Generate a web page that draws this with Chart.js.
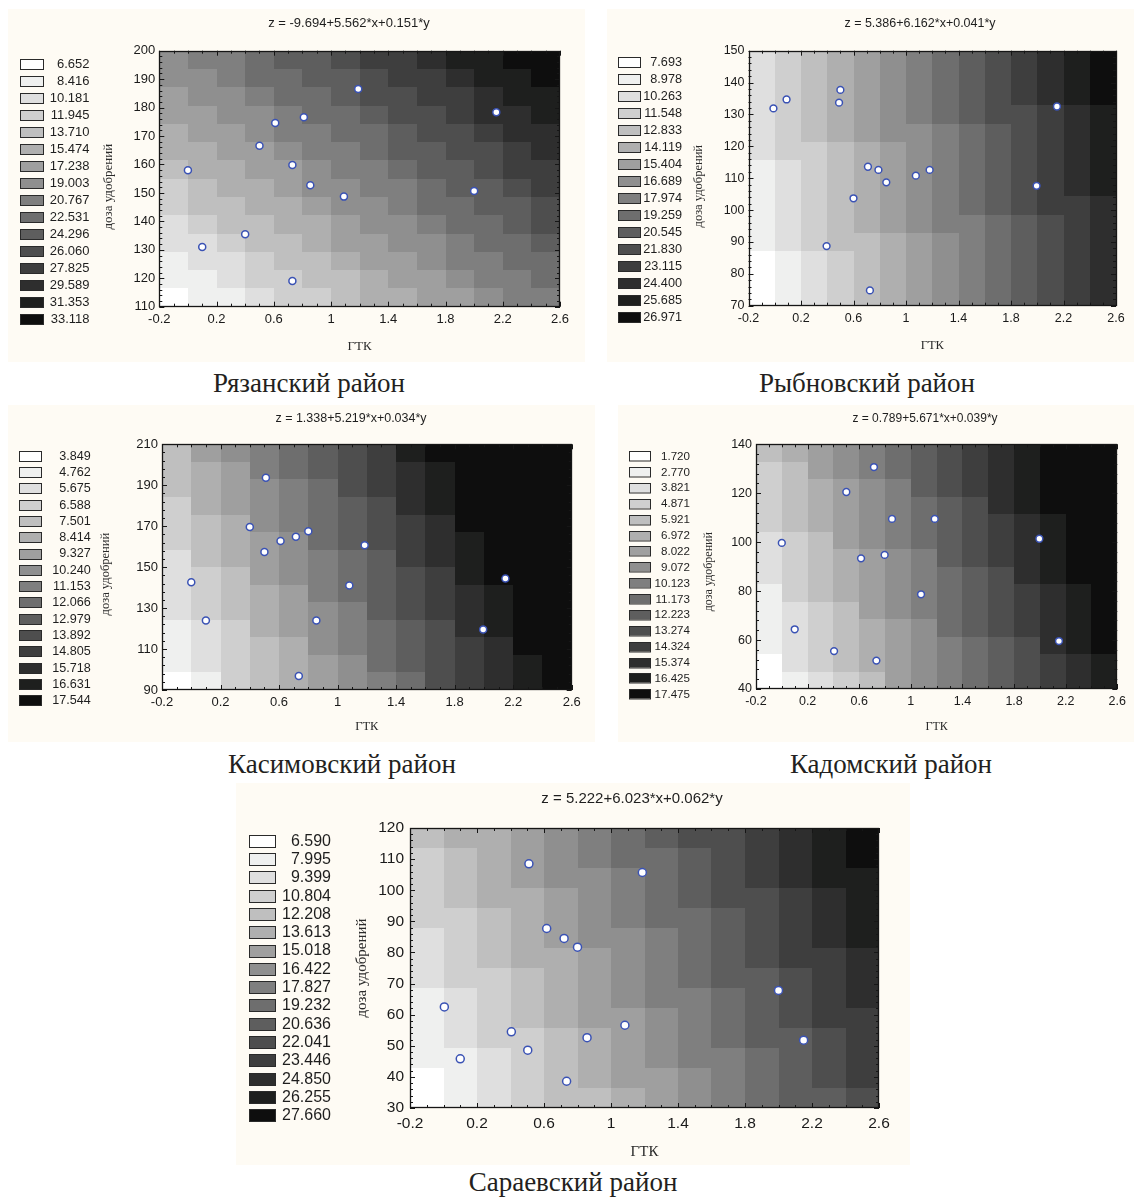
<!DOCTYPE html>
<html>
<head>
<meta charset="utf-8">
<script src="https://cdn.jsdelivr.net/npm/chart.js@4.4.0/dist/chart.umd.min.js"></script>
<style>
  body { margin: 0; background: #fff; width: 1134px; height: 1198px; position: relative; overflow: hidden; }
  .panel { position: absolute; background: #fefbf4; }
  .cap { position: absolute; width: 400px; text-align: center; white-space: nowrap;
         font-family: "Liberation Serif", serif; font-size: 27px; line-height: 27px; color: #231f20; }
</style>
</head>
<body>
<script>
// shared axis ticks
var xTickVals = [-0.2, 0.2, 0.6, 1.0, 1.4, 1.8, 2.2, 2.6];
var xTickLabels = ['-0.2', '0.2', '0.6', '1', '1.4', '1.8', '2.2', '2.6'];
var grays = ['#ffffff', '#eff0ef', '#dfdfdf', '#cfcfcf', '#bfbfbf', '#afafaf', '#9f9f9f', '#8f8f8f',
             '#7f7f7f', '#6e6e6e', '#5e5e5e', '#4e4e4e', '#3e3e3e', '#2e2e2e', '#1e1f1e', '#0e0e0e'];

// Рязанский район
var ryazanGtk  = [0.0, 0.1, 0.4, 0.5, 0.61, 0.73, 0.81, 0.73, 0.855, 1.09, 1.19, 2.0, 2.155];
var ryazanDose = [158, 131, 135.5, 166.6, 174.6, 159.8, 176.6, 119, 152.7, 148.7, 186.5, 150.7, 178.4];
var ryazanYTicks = [110, 120, 130, 140, 150, 160, 170, 180, 190, 200];
var ryazanLevels = ['6.652', '8.416', '10.181', '11.945', '13.710', '15.474', '17.238', '19.003',
                    '20.767', '22.531', '24.296', '26.060', '27.825', '29.589', '31.353', '33.118'];
// level index of every cell, top row first (hex digit = legend entry)
var ryazanCells = ['7889aabccdeeff', '77899aabccdeef', '677899abbccdee', '6677899abbcdde',
                   '56678899abbcdd', '55667889aabbcd', '455667889aabcc', '3455677889aabc',
                   '34455677899aab', '234455677899ab', '2234456677899a', '12234456678899',
                   '11233445667889', '01123345566788'];

// Рыбновский район
var rybnoeGtk  = [-0.01, 0.09, 0.5, 0.49, 0.71, 0.79, 0.85, 0.6, 1.075, 1.18, 0.395, 0.725, 1.995, 2.15];
var rybnoeDose = [131.9, 134.7, 137.7, 133.7, 113.6, 112.6, 108.7, 103.7, 110.8, 112.6, 88.7, 74.8, 107.6, 132.5];
var rybnoeYTicks = [70, 80, 90, 100, 110, 120, 130, 140, 150];
var rybnoeLevels = ['7.693', '8.978', '10.263', '11.548', '12.833', '14.119', '15.404', '16.689',
                    '17.974', '19.259', '20.545', '21.830', '23.115', '24.400', '25.685', '26.971'];
var rybnoeCells = ['23456789abcdef', '23456789abcdef', '23456789abcdef', '23456789abbcde',
                   '234567789abcde', '233456789abcde', '123456789abcde', '123456789abcde',
                   '123456789abccd', '1234567889abcd', '1234456789abcd', '0123456789abcd',
                   '0123456789abcd', '0123456789abcd'];

// Касимовский район
var kasimovGtk  = [0.0, 0.1, 0.51, 0.4, 0.5, 0.61, 0.715, 0.8, 0.855, 0.735, 1.08, 1.185, 2.147, 1.995];
var kasimovDose = [142.6, 123.9, 193.7, 169.6, 157.4, 162.8, 164.9, 167.5, 123.9, 96.8, 141.0, 160.7, 144.5, 119.6];
var kasimovYTicks = [90, 110, 130, 150, 170, 190, 210];
var kasimovLevels = ['3.849', '4.762', '5.675', '6.588', '7.501', '8.414', '9.327', '10.240',
                     '11.153', '12.066', '12.979', '13.892', '14.805', '15.718', '16.631', '17.544'];
var kasimovCells = ['46789abcefffff', '45689abcdeffff', '456789bcdeffff', '356789abdeffff',
                    '345789abcdffff', '345679abcdefff', '2456789acdefff', '2346789abcefff',
                    '2345689abcdeff', '2345678abcdeff', '12356789abdeff', '12345789abcdff',
                    '12345679abcdef', '013456789bcdef'];

// Кадомский район
var kadomGtk  = [0.0, 0.1, 0.405, 0.5, 0.714, 0.614, 0.797, 0.854, 0.733, 1.079, 1.185, 1.996, 2.148];
var kadomDose = [99.7, 64.4, 55.5, 120.5, 130.7, 93.4, 94.8, 109.5, 51.6, 78.7, 109.5, 101.4, 59.6];
var kadomYTicks = [40, 60, 80, 100, 120, 140];
var kadomLevels = ['1.720', '2.770', '3.821', '4.871', '5.921', '6.972', '8.022', '9.072',
                   '10.123', '11.173', '12.223', '13.274', '14.324', '15.374', '16.425', '17.475'];
var kadomCells = ['456789abcdefff', '346789abcdefff', '345678abcdefff', '3456789abdefff',
                  '3456789abcdeff', '2346789abcdeff', '2345678abcdeff', '23456789abdeff',
                  '13456789abcdef', '12346789abcdef', '12345679abcdef', '123456789abdef',
                  '023456789abcde', '012346789abcde'];

// Сараевский район
var saraiGtk  = [0.005, 0.1, 0.51, 0.405, 0.503, 0.616, 0.72, 0.8, 0.857, 0.735, 1.083, 1.187, 2.0, 2.15];
var saraiDose = [62.5, 45.8, 108.5, 54.5, 48.6, 87.7, 84.5, 81.7, 52.6, 38.6, 56.6, 105.7, 67.8, 51.8];
var saraiYTicks = [30, 40, 50, 60, 70, 80, 90, 100, 110, 120];
var saraiLevels = ['6.590', '7.995', '9.399', '10.804', '12.208', '13.613', '15.018', '16.422',
                   '17.827', '19.232', '20.636', '22.041', '23.446', '24.850', '26.255', '27.660'];
var saraiCells = ['4556789abbcdef', '34567899abcdef', '34567789abcdee', '34556789abbcde',
                  '334567899abcde', '234567789abcde', '234556789abccd', '233456789aabcd',
                  '1234567889abcd', '1234566789abcc', '1233456789aabc', '11234567889abc',
                  '01234566789abc', '01234456789aab'];

Chart.defaults.font.family = '"Liberation Sans", Arial, sans-serif';
Chart.defaults.color = '#1a1a1a';

// cells, inner ticks and frame
var heatPlugin = {
  id: 'heat',
  beforeDatasetsDraw: function(chart, args, o) {
    var ctx = chart.ctx, a = chart.chartArea, x = chart.scales.x, y = chart.scales.y;
    var nr = o.cells.length, nc = o.cells[0].length;
    var dx = (x.max - x.min) / nc, dy = (y.max - y.min) / nr;
    ctx.save();
    for (var i = 0; i < nr; i++) {
      for (var j = 0; j < nc; j++) {
        var px0 = Math.round(x.getPixelForValue(x.min + j * dx));
        var px1 = Math.round(x.getPixelForValue(x.min + (j + 1) * dx));
        var py0 = Math.round(y.getPixelForValue(y.max - i * dy));
        var py1 = Math.round(y.getPixelForValue(y.max - (i + 1) * dy));
        ctx.fillStyle = grays[parseInt(o.cells[i][j], 16)];
        ctx.fillRect(px0, py0, px1 - px0, py1 - py0);
      }
    }
    ctx.strokeStyle = '#161616';
    ctx.lineWidth = 1;
    ctx.beginPath();
    var v, p, len, k;
    for (k = 0; k <= 28; k++) {
      v = x.min + k * 0.1;
      p = Math.round(x.getPixelForValue(v)) + 0.5;
      len = (k % 4 === 0) ? 5 : 3;
      ctx.moveTo(p, a.bottom); ctx.lineTo(p, a.bottom - len);
      ctx.moveTo(p, a.top); ctx.lineTo(p, a.top + len);
    }
    var ystep = o.yStep / 5, ny = Math.round((y.max - y.min) / ystep);
    for (k = 0; k <= ny; k++) {
      v = y.min + k * ystep;
      p = Math.round(y.getPixelForValue(v)) + 0.5;
      len = (k % 5 === 0) ? 5 : 3;
      ctx.moveTo(a.left, p); ctx.lineTo(a.left + len, p);
      ctx.moveTo(a.right, p); ctx.lineTo(a.right - len, p);
    }
    ctx.stroke();
    ctx.lineWidth = 1.3;
    ctx.strokeRect(Math.round(a.left) + 0.5, Math.round(a.top) + 0.5,
                   Math.round(a.right - a.left) - 1, Math.round(a.bottom - a.top) - 1);
    ctx.restore();
  }
};

// equation title, y-axis title and level legend
var decorPlugin = {
  id: 'decor',
  afterDraw: function(chart, args, o) {
    var ctx = chart.ctx;
    ctx.save();
    ctx.fillStyle = '#1e1e1e';
    ctx.textAlign = 'center';
    ctx.textBaseline = 'middle';
    ctx.font = o.titleSize + 'px "Liberation Sans"';
    ctx.fillText(o.title, o.titleX, o.titleY);

    ctx.save();
    ctx.translate(o.yTitleX, o.yTitleY);
    ctx.rotate(-Math.PI / 2);
    ctx.fillStyle = '#2a2a2a';
    ctx.font = o.axisSize + 'px "Liberation Serif"';
    ctx.fillText('доза удобрений', 0, 0);
    ctx.restore();

    ctx.font = o.legSize + 'px "Liberation Sans"';
    ctx.textAlign = 'right';
    for (var k = 0; k < o.levels.length; k++) {
      var yc = o.legY0 + k * o.legDy;
      var sx = Math.round(o.legX), sy = Math.round(yc - o.swH / 2);
      ctx.fillStyle = grays[k];
      ctx.fillRect(sx, sy, o.swW, o.swH);
      ctx.strokeStyle = '#2a2a2a';
      ctx.lineWidth = 1;
      ctx.strokeRect(sx + 0.5, sy + 0.5, o.swW, o.swH);
      ctx.fillStyle = '#1e1e1e';
      ctx.fillText(o.levels[k], o.legRight, yc + 0.5);
    }
    ctx.restore();
  }
};

function panel(p) {
  var bx = p.box[0], by = p.box[1], W = p.box[2], H = p.box[3];
  var div = document.createElement('div');
  div.className = 'panel';
  div.style.left = bx + 'px'; div.style.top = by + 'px';
  div.style.width = W + 'px'; div.style.height = H + 'px';
  var cv = document.createElement('canvas');
  cv.width = W; cv.height = H;
  div.appendChild(cv);
  document.body.appendChild(div);

  var cap = document.createElement('div');
  cap.className = 'cap';
  cap.textContent = p.caption;
  cap.style.left = (p.capX - 200) + 'px';
  cap.style.top = p.capTop + 'px';
  document.body.appendChild(cap);

  var cl = p.plot[0] - bx, ct = p.plot[1] - by, cr = p.plot[2] - bx, cb = p.plot[3] - by;
  var lh = p.axisSize * 1.2;
  var yW = cl - (p.yTitleX - bx - lh / 2);
  var xH = (p.xTitleY - by) + lh / 2 - cb;
  var yStep = p.yTicks[1] - p.yTicks[0];

  new Chart(cv, {
    type: 'scatter',
    data: {
      datasets: [{
        data: p.x.map(function(v, i) { return {x: v, y: p.y[i]}; }),
        pointRadius: p.r,
        pointBackgroundColor: '#ffffff',
        pointBorderColor: '#3a52b4',
        pointBorderWidth: 1.5
      }]
    },
    options: {
      responsive: false,
      animation: false,
      devicePixelRatio: 1,
      layout: { padding: { left: cl - yW, top: ct, right: W - cr, bottom: H - cb - xH } },
      plugins: {
        legend: { display: false },
        tooltip: { enabled: false },
        heat: { cells: p.cells, yStep: yStep },
        decor: {
          title: p.title, titleSize: p.titleSize,
          titleX: p.titleX - bx, titleY: p.titleY - by,
          yTitleX: p.yTitleX - bx, yTitleY: (p.plot[1] + p.plot[3]) / 2 + p.yTitleShift - by,
          axisSize: p.axisSize,
          levels: p.levels, legSize: p.legSize,
          legX: p.leg[0] - bx, legY0: p.leg[1] - by, legDy: p.leg[2],
          swW: p.leg[3], swH: p.leg[4], legRight: p.leg[5] - bx
        }
      },
      scales: {
        x: {
          type: 'linear', min: -0.2, max: 2.6,
          afterBuildTicks: function(s) { s.ticks = xTickVals.map(function(v) { return {value: v}; }); },
          afterFit: function(s) { s.height = xH; },
          ticks: { callback: function(v, i) { return xTickLabels[i]; }, font: { size: p.tickSize },
                   padding: p.xPad, maxRotation: 0, autoSkip: false, color: '#1a1a1a' },
          grid: { display: false, drawTicks: false },
          border: { display: false },
          title: { display: true, text: 'ГТК', color: '#2a2a2a', padding: 0,
                   font: { family: '"Liberation Serif", serif', size: p.axisSize } }
        },
        y: {
          type: 'linear', min: p.yTicks[0], max: p.yTicks[p.yTicks.length - 1],
          afterBuildTicks: function(s) { s.ticks = p.yTicks.map(function(v) { return {value: v}; }); },
          afterFit: function(s) { s.width = yW; },
          ticks: { font: { size: p.tickSize }, padding: p.yPad, color: '#1a1a1a' },
          grid: { display: false, drawTicks: false },
          border: { display: false },
          title: { display: false }
        }
      }
    },
    plugins: [heatPlugin, decorPlugin]
  });
}

panel({
  caption: 'Рязанский район', capX: 309, capTop: 370,
  box: [8, 9, 577, 353], plot: [159.3, 50.7, 560, 306.7],
  yTitleX: 108.3, yTitleShift: 8, xTitleY: 346.7, axisSize: 13, tickSize: 13, xPad: 5, yPad: 4, r: 3.5,
  title: 'z = -9.694+5.562*x+0.151*y', titleSize: 13, titleX: 349, titleY: 23.5,
  levels: ryazanLevels, legSize: 13, leg: [19.5, 63.7, 17.02, 23, 10, 89.5],
  x: ryazanGtk, y: ryazanDose, yTicks: ryazanYTicks, cells: ryazanCells
});
panel({
  caption: 'Рыбновский район', capX: 867, capTop: 370,
  box: [607, 9, 527, 353], plot: [748.5, 50.7, 1116, 305.7],
  yTitleX: 699, yTitleShift: 8, xTitleY: 346, axisSize: 12.5, tickSize: 12.5, xPad: 5, yPad: 4, r: 3.4,
  title: 'z = 5.386+6.162*x+0.041*y', titleSize: 12.5, titleX: 920, titleY: 24,
  levels: rybnoeLevels, legSize: 12.7, leg: [617.5, 61.7, 17.04, 22, 10, 682],
  x: rybnoeGtk, y: rybnoeDose, yTicks: rybnoeYTicks, cells: rybnoeCells
});
panel({
  caption: 'Касимовский район', capX: 342, capTop: 751,
  box: [8, 405, 587, 337], plot: [162, 444.3, 571.7, 690],
  yTitleX: 106, yTitleShift: 7, xTitleY: 727, axisSize: 12.5, tickSize: 13, xPad: 5, yPad: 4, r: 3.5,
  title: 'z = 1.338+5.219*x+0.034*y', titleSize: 12.5, titleX: 351, titleY: 419,
  levels: kasimovLevels, legSize: 12.6, leg: [19, 455.7, 16.3, 22, 10, 90.7],
  x: kasimovGtk, y: kasimovDose, yTicks: kasimovYTicks, cells: kasimovCells
});
panel({
  caption: 'Кадомский район', capX: 891, capTop: 751,
  box: [618, 405, 516, 337], plot: [756, 444.3, 1117.3, 689],
  yTitleX: 709, yTitleShift: 5, xTitleY: 727, axisSize: 12, tickSize: 12.5, xPad: 5, yPad: 4, r: 3.4,
  title: 'z = 0.789+5.671*x+0.039*y', titleSize: 12, titleX: 925, titleY: 419,
  levels: kadomLevels, legSize: 11.6, leg: [629, 456, 15.87, 21, 9.5, 690],
  x: kadomGtk, y: kadomDose, yTicks: kadomYTicks, cells: kadomCells
});
panel({
  caption: 'Сараевский район', capX: 573, capTop: 1169,
  box: [236, 783, 674, 382], plot: [410, 828, 879, 1108],
  yTitleX: 361.7, yTitleShift: 0, xTitleY: 1152, axisSize: 15, tickSize: 15.5, xPad: 6, yPad: 6, r: 4,
  title: 'z = 5.222+6.023*x+0.062*y', titleSize: 15, titleX: 632, titleY: 799,
  levels: saraiLevels, legSize: 16, leg: [248.5, 840.7, 18.3, 26, 12, 331],
  x: saraiGtk, y: saraiDose, yTicks: saraiYTicks, cells: saraiCells
});
</script>
</body>
</html>
